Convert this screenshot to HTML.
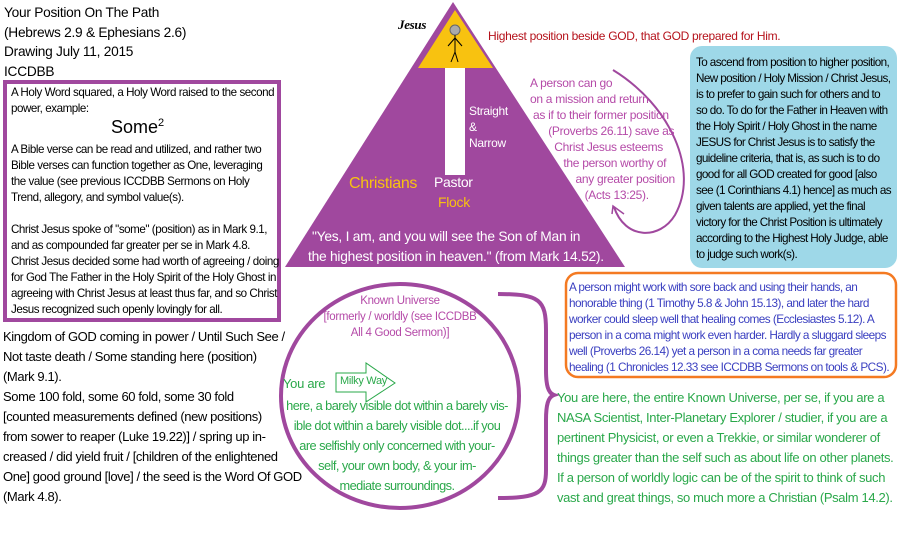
<!DOCTYPE html>
<html><head><meta charset="utf-8">
<style>
body{margin:0;width:917px;height:534px;background:#fff;position:relative;overflow:hidden;font-family:"Liberation Sans",Arial,sans-serif;}
.t{position:absolute;white-space:nowrap;font-size:12px;letter-spacing:-0.3px;}
</style></head><body>
<svg width="917" height="534" style="position:absolute;left:0;top:0">
  <polygon points="453,2 285,267 625,267" fill="#a0489e"/>
  <polygon points="455,10 418,68 493,68" fill="#f8c210"/>
  <rect x="445" y="68" width="20" height="107" fill="#fff"/>
  <circle cx="455" cy="30" r="5" fill="#aaa" stroke="#666"/>
  <line x1="455" y1="35" x2="455" y2="52" stroke="#000"/>
  <line x1="455" y1="38" x2="448" y2="46" stroke="#000"/>
  <line x1="455" y1="38" x2="462" y2="46" stroke="#000"/>
  <line x1="455" y1="52" x2="451" y2="62" stroke="#000"/>
  <line x1="455" y1="52" x2="458" y2="62" stroke="#000"/>
  <rect x="5" y="82" width="274" height="238" fill="none" stroke="#a0489e" stroke-width="4"/>
  <rect x="690" y="46" width="207" height="222" rx="12" fill="#9ed8e8"/>
  <rect x="566" y="273" width="330" height="104" rx="12" fill="none" stroke="#f47a22" stroke-width="2.5"/>
  <path d="M613,70 C670,105 700,170 675,215 C660,240 625,240 614,207" fill="none" stroke="#a0489e" stroke-width="2"/>
  <path d="M612,214 L613,206 L624,214" fill="none" stroke="#a0489e" stroke-width="1.5"/>
  <ellipse cx="400" cy="396" rx="119" ry="112" fill="none" stroke="#a0489e" stroke-width="4"/>
  <path d="M498,294 C540,294 546,300 546,330 L546,370 C546,385 548,393 554,395 C548,397 546,405 546,420 L546,470 C546,492 540,498 498,498" fill="none" stroke="#a0489e" stroke-width="4"/>
  <polygon points="336,373 366,373 366,363 395,383 366,402 366,392 336,392" fill="#fff" stroke="#2aa84a" stroke-width="1"/>
</svg>

<div class="t" style="left:4px;top:3px;font-size:13.7px;letter-spacing:-0.25px;line-height:19.5px;">Your Position On The Path<br>(Hebrews 2.9 &amp; Ephesians 2.6)<br>Drawing July 11, 2015<br>ICCDBB</div>

<div class="t" style="left:11px;top:85px;line-height:16px;font-size:11.6px;letter-spacing:-0.45px;">A Holy Word squared, a Holy Word raised to the second<br>power, example:</div>
<div class="t" style="left:111px;top:117px;font-size:18px;letter-spacing:0">Some<sup style="font-size:11px">2</sup></div>
<div class="t" style="left:11px;top:142px;line-height:16px;font-size:11.6px;letter-spacing:-0.45px;">A Bible verse can be read and utilized, and rather two<br>Bible verses can function together as One, leveraging<br>the value (see previous ICCDBB Sermons on Holy<br>Trend, allegory, and symbol value(s).<br><br>Christ Jesus spoke of "some" (position) as in Mark 9.1,<br>and as compounded far greater per se in Mark 4.8.<br>Christ Jesus decided some had worth of agreeing / doing<br>for God The Father in the Holy Spirit of the Holy Ghost in<br>agreeing with Christ Jesus at least thus far, and so Christ<br>Jesus recognized such openly lovingly for all.</div>

<div class="t" style="left:3px;top:327px;font-size:13px;letter-spacing:-0.4px;line-height:20px;">Kingdom of GOD coming in power / Until Such See /<br>Not taste death / Some standing here (position)<br>(Mark 9.1).<br>Some 100 fold, some 60 fold, some 30 fold<br>[counted measurements defined (new positions)<br>from sower to reaper (Luke 19.22)] / spring up in-<br>creased / did yield fruit / [children of the enlightened<br>One] good ground [love] / the seed is the Word Of GOD<br>(Mark 4.8).</div>

<div class="t" style="left:398px;top:17px;font-family:'Liberation Serif',serif;font-style:italic;font-weight:bold;font-size:13px;">Jesus</div>
<div class="t" style="left:488px;top:29px;color:#b5121b;">Highest position beside GOD, that GOD prepared for Him.</div>
<div class="t" style="left:469px;top:103px;color:#fff;line-height:16px;">Straight<br>&amp;<br>Narrow</div>
<div class="t" style="left:349px;top:175px;color:#f8c210;font-size:16px;">Christians</div>
<div class="t" style="left:434px;top:174px;color:#fff;font-size:14px;">Pastor</div>
<div class="t" style="left:438px;top:194px;color:#f8c210;font-size:14px;">Flock</div>
<div class="t" style="left:312px;top:227px;color:#fff;font-size:13.8px;line-height:20px;letter-spacing:-0.25px;">"Yes, I am, and you will see the Son of Man in<br><span style="margin-left:-4px">the highest position in heaven." (from Mark 14.52).</span></div>

<div class="t" style="left:530px;top:75px;color:#b54aa8;line-height:16px;">A person can go<br>on a mission and return<br>&nbsp;as if to their former position<br>&nbsp;&nbsp;&nbsp;&nbsp;&nbsp;&nbsp;(Proverbs 26.11) save as<br>&nbsp;&nbsp;&nbsp;&nbsp;&nbsp;&nbsp;&nbsp;&nbsp;Christ Jesus esteems<br>&nbsp;&nbsp;&nbsp;&nbsp;&nbsp;&nbsp;&nbsp;&nbsp;&nbsp;&nbsp;&nbsp;the person worthy of<br>&nbsp;&nbsp;&nbsp;&nbsp;&nbsp;&nbsp;&nbsp;&nbsp;&nbsp;&nbsp;&nbsp;&nbsp;&nbsp;&nbsp;&nbsp;any greater position<br>&nbsp;&nbsp;&nbsp;&nbsp;&nbsp;&nbsp;&nbsp;&nbsp;&nbsp;&nbsp;&nbsp;&nbsp;&nbsp;&nbsp;&nbsp;&nbsp;&nbsp;&nbsp;(Acts 13:25).</div>

<div class="t" style="left:696px;top:55px;line-height:16px;font-size:11.7px;letter-spacing:-0.6px;">To ascend from position to higher position,<br>New position / Holy Mission / Christ Jesus,<br>is to prefer to gain such for others and to<br>so do. To do for the Father in Heaven with<br>the Holy Spirit / Holy Ghost in the name<br>JESUS for Christ Jesus is to satisfy the<br>guideline criteria, that is, as such is to do<br>good for all GOD created for good [also<br>see (1 Corinthians 4.1) hence] as much as<br>given talents are applied, yet the final<br>victory for the Christ Position is ultimately<br>according to the Highest Holy Judge, able<br>to judge such work(s).</div>

<div class="t" style="left:569px;top:279px;color:#3a3fc0;line-height:16px;font-size:11.8px;letter-spacing:-0.55px;">A person might work with sore back and using their hands, an<br>honorable thing (1 Timothy 5.8 &amp; John 15.13), and later the hard<br>worker could sleep well that healing comes (Ecclesiastes 5.12). A<br>person in a coma might work even harder. Hardly a sluggard sleeps<br>well (Proverbs 26.14) yet a person in a coma needs far greater<br>healing (1 Chronicles 12.33 see ICCDBB Sermons on tools &amp; PCS).</div>

<div class="t" style="left:280px;width:240px;top:293px;color:#b54aa8;line-height:16px;font-size:11.5px;text-align:center;">Known Universe<br>[formerly / worldly (see ICCDBB<br>All 4 Good Sermon)]</div>
<div class="t" style="left:340px;top:375px;color:#2aa84a;font-size:11px;">Milky Way</div>
<div class="t" style="left:283px;top:376px;color:#2aa84a;font-size:13px;">You are</div>
<div class="t" style="left:280px;width:234px;top:396px;color:#2aa84a;font-size:12.8px;letter-spacing:-0.55px;line-height:20px;text-align:center;">here, a barely visible dot within a barely vis-<br>ible dot within a barely visible dot....if you<br>are selfishly only concerned with your-<br>self, your own body, &amp; your im-<br>mediate surroundings.</div>

<div class="t" style="left:557px;top:388px;color:#2aa84a;font-size:13px;letter-spacing:-0.35px;line-height:20px;">You are here, the entire Known Universe, per se, if you are a<br>NASA Scientist, Inter-Planetary Explorer / studier, if you are a<br>pertinent Physicist, or even a Trekkie, or similar wonderer of<br>things greater than the self such as about life on other planets.<br>If a person of worldly logic can be of the spirit to think of such<br>vast and great things, so much more a Christian (Psalm 14.2).</div>
</body></html>
